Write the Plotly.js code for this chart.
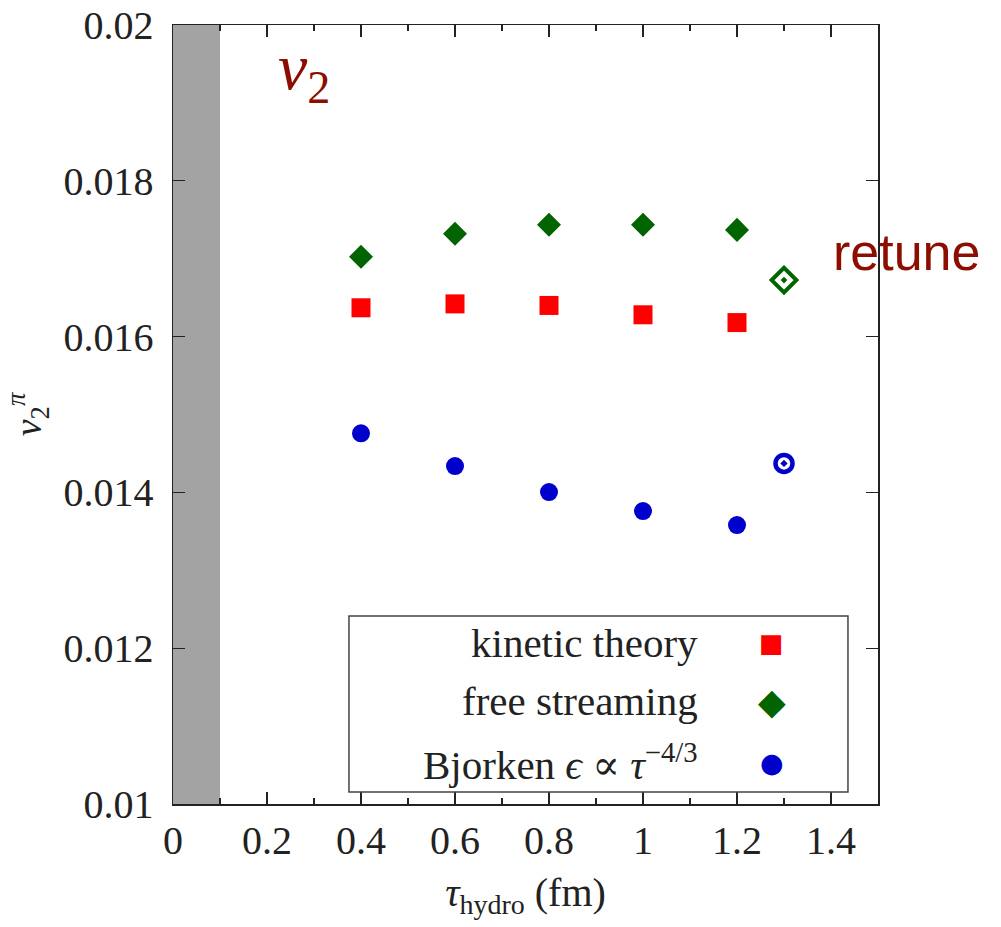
<!DOCTYPE html>
<html>
<head>
<meta charset="utf-8">
<script src="https://cdn.plot.ly/plotly-3.0.1.min.js"></script>
<style>html,body{margin:0;padding:0;background:#fff;}#chart{width:1001px;height:927px;}</style>
</head>
<body>
<div id="chart"></div>
<script>
// ---- data ----
const tau = [0.4, 0.6, 0.8, 1.0, 1.2];
const kineticTheory = [0.01637, 0.01642, 0.01640, 0.01628, 0.01618];
const freeStreaming = [0.017025, 0.01732, 0.017435, 0.017435, 0.01737];
const bjorken = [0.014758, 0.014338, 0.014004, 0.01376, 0.01358];
const retuneTau = [1.3];
const retuneFreeStreaming = [0.016725];
const retuneBjorken = [0.014372];
const xTickVals = [0, 0.2, 0.4, 0.6, 0.8, 1, 1.2, 1.4];
const yTickVals = [0.01, 0.012, 0.014, 0.016, 0.018, 0.02];
const legendLabels = ['kinetic theory', 'free streaming', 'Bjorken <i>ϵ</i> ∝ <i>τ</i><sup>−4/3</sup>'];

const SERIF = 'Liberation Serif, DejaVu Serif, serif';
const RED = '#ff0000', GREEN = '#006400', BLUE = '#0000cc', DARKRED = '#8b0e00';

const traces = [
  {x: tau, y: kineticTheory, mode: 'markers', name: 'kinetic theory',
   marker: {symbol: 'square', size: 19, color: RED}},
  {x: tau, y: freeStreaming, mode: 'markers', name: 'free streaming',
   marker: {symbol: 'diamond', size: 18.5, color: GREEN}},
  {x: tau, y: bjorken, mode: 'markers', name: 'Bjorken',
   marker: {symbol: 'circle', size: 18, color: BLUE}},
  {x: retuneTau, y: retuneFreeStreaming, mode: 'markers', name: 'free streaming (retune)',
   marker: {symbol: 'diamond-open-dot', size: 19, color: GREEN, line: {width: 4, color: GREEN}}},
  {x: retuneTau, y: retuneBjorken, mode: 'markers', name: 'Bjorken (retune)',
   marker: {symbol: 'circle-open-dot', size: 17, color: BLUE, line: {width: 4.5, color: BLUE}}}
];

const axisCommon = {
  showgrid: false, zeroline: false, showline: true, linecolor: '#222', linewidth: 1.5,
  mirror: 'allticks', ticks: 'inside', ticklen: 12, tickwidth: 1.3, tickcolor: '#222',
  tickfont: {family: SERIF, size: 40, color: '#222'}
};

const layout = {
  width: 1001, height: 927,
  margin: {l: 173, r: 123, t: 25, b: 123},
  paper_bgcolor: '#fff', plot_bgcolor: '#fff',
  showlegend: false,
  font: {family: SERIF, color: '#222'},
  xaxis: Object.assign({}, axisCommon, {
    range: [0, 1.5], tickmode: 'array', tickvals: xTickVals,
    ticktext: xTickVals.map(String),
    minor: {dtick: 0.1, ticks: 'inside', ticklen: 6, tickwidth: 1.3, tickcolor: '#222'},
    ticklabelstandoff: 0,
    title: {text: '<i>τ</i><sub>hydro</sub> (fm)', font: {family: SERIF, size: 40, color: '#222'}, standoff: 16}
  }),
  yaxis: Object.assign({}, axisCommon, {
    range: [0.01, 0.02], tickmode: 'array', tickvals: yTickVals,
    ticktext: yTickVals.map(v => String(+v.toFixed(3))),
    ticklabelstandoff: 10,
    title: {text: '<i>v</i><sub>2</sub><sup><i>π</i></sup>', font: {family: SERIF, size: 38, color: '#222'}, standoff: 10}
  }),
  shapes: [
    {type: 'rect', xref: 'x', yref: 'paper', x0: 0, x1: 0.1, y0: 0, y1: 1,
     fillcolor: '#a3a3a3', line: {width: 0}, layer: 'below'},
    {type: 'rect', xref: 'paper', yref: 'paper', x0: 0.2496, x1: 0.9574, y0: 0.0154, y1: 0.2413,
     fillcolor: '#ffffff', line: {width: 1.5, color: '#444'}, layer: 'above'}
  ],
  annotations: [
    {xref: 'x', yref: 'y', x: 0.22, y: 0.0194, xanchor: 'left', yanchor: 'middle', showarrow: false,
     text: '<i>v</i><sub>2</sub>', font: {family: SERIF, size: 66, color: DARKRED}},
    {xref: 'x', yref: 'y', x: 1.4, y: 0.01708, xanchor: 'left', yanchor: 'middle', showarrow: false,
     text: 'retune', font: {family: 'Liberation Sans, Arial, sans-serif', size: 52, color: DARKRED}},
    {xref: 'paper', yref: 'paper', x: 0.7475, y: 0.2067, xanchor: 'right', yanchor: 'middle', showarrow: false,
     text: legendLabels[0], font: {family: SERIF, size: 41, color: '#222'}},
    {xref: 'paper', yref: 'paper', x: 0.7475, y: 0.1322, xanchor: 'right', yanchor: 'middle', showarrow: false,
     text: legendLabels[1], font: {family: SERIF, size: 41, color: '#222'}},
    {xref: 'paper', yref: 'paper', x: 0.7475, y: 0.0539, xanchor: 'right', yanchor: 'middle', showarrow: false,
     text: legendLabels[2], font: {family: SERIF, size: 41, color: '#222'}},
    {xref: 'paper', yref: 'paper', x: 0.8496, y: 0.2067, xanchor: 'center', yanchor: 'middle', showarrow: false,
     text: '■', font: {family: 'DejaVu Sans', size: 26, color: RED}},
    {xref: 'paper', yref: 'paper', x: 0.8496, y: 0.1322, xanchor: 'center', yanchor: 'middle', showarrow: false,
     text: '◆', font: {family: 'DejaVu Sans', size: 36, color: GREEN}},
    {xref: 'paper', yref: 'paper', x: 0.8496, y: 0.0539, xanchor: 'center', yanchor: 'middle', showarrow: false,
     text: '●', font: {family: 'DejaVu Sans', size: 27, color: BLUE}}
  ]
};

Plotly.newPlot('chart', traces, layout, {staticPlot: true, displayModeBar: false});
</script>
</body>
</html>
